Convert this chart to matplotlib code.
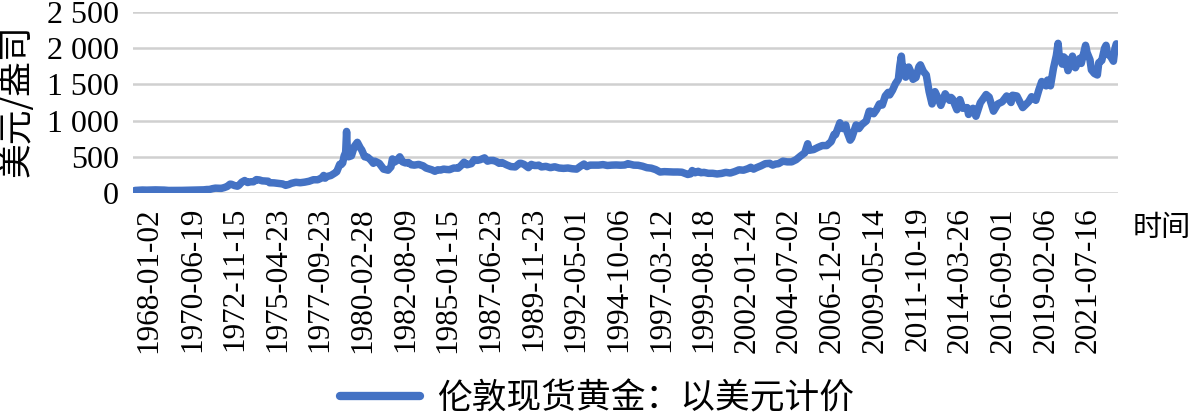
import matplotlib
matplotlib.use("Agg")
import matplotlib.pyplot as plt
import matplotlib.transforms as mtransforms
import pandas as pd

# London spot gold, USD per ounce (roughly bimonthly)
dates = [
    "1968-01", "1968-03", "1968-04", "1968-06", "1968-09", "1968-12",
    "1969-03", "1969-06", "1969-09", "1969-12",
    "1970-03", "1970-06", "1970-09", "1970-12",
    "1971-03", "1971-06", "1971-09", "1971-12",
    "1972-02", "1972-04", "1972-06", "1972-08", "1972-10", "1972-12",
    "1973-02", "1973-04", "1973-06", "1973-07", "1973-09", "1973-11", "1973-12",
    "1974-02", "1974-04", "1974-06", "1974-08", "1974-10", "1974-12",
    "1975-02", "1975-04", "1975-06", "1975-08", "1975-09", "1975-12",
    "1976-03", "1976-06", "1976-08", "1976-10", "1976-12",
    "1977-03", "1977-06", "1977-09", "1977-12",
    "1978-03", "1978-06", "1978-09", "1978-10", "1978-11", "1978-12",
    "1979-03", "1979-06", "1979-07", "1979-09", "1979-10", "1979-11", "1979-12",
    "1980-01-02", "1980-01-21", "1980-02", "1980-03", "1980-05", "1980-07", "1980-09", "1980-10", "1980-11", "1980-12",
    "1981-02", "1981-04", "1981-06", "1981-08", "1981-09", "1981-12",
    "1982-03", "1982-06", "1982-08", "1982-09", "1982-10", "1982-12",
    "1983-02", "1983-04", "1983-06", "1983-08", "1983-10", "1983-12",
    "1984-03", "1984-06", "1984-08", "1984-12",
    "1985-02", "1985-04", "1985-06", "1985-08", "1985-10", "1985-12",
    "1986-03", "1986-06", "1986-08", "1986-10", "1986-12",
    "1987-03", "1987-05", "1987-07", "1987-09", "1987-12",
    "1988-02", "1988-04", "1988-06", "1988-08", "1988-10", "1988-12",
    "1989-03", "1989-06", "1989-09", "1989-11", "1989-12",
    "1990-01", "1990-03", "1990-06", "1990-08", "1990-10", "1990-12",
    "1991-01", "1991-03", "1991-06", "1991-09", "1991-12",
    "1992-03", "1992-06", "1992-09", "1992-12",
    "1993-03", "1993-06", "1993-08", "1993-10", "1993-12",
    "1994-03", "1994-06", "1994-09", "1994-12",
    "1995-03", "1995-06", "1995-09", "1995-12",
    "1996-02", "1996-06", "1996-09", "1996-12",
    "1997-03", "1997-06", "1997-09", "1997-12",
    "1998-03", "1998-06", "1998-09", "1998-12",
    "1999-03", "1999-07", "1999-09", "1999-10", "1999-12",
    "2000-02", "2000-04", "2000-06", "2000-09", "2000-12",
    "2001-03", "2001-06", "2001-09", "2001-12",
    "2002-03", "2002-06", "2002-09", "2002-12",
    "2003-02", "2003-04", "2003-06", "2003-09", "2003-12",
    "2004-03", "2004-05", "2004-07", "2004-09", "2004-12",
    "2005-03", "2005-06", "2005-09", "2005-12",
    "2006-03", "2006-05", "2006-06", "2006-09", "2006-12",
    "2007-03", "2007-06", "2007-09", "2007-11", "2007-12",
    "2008-03", "2008-05", "2008-07", "2008-08", "2008-10", "2008-11", "2008-12",
    "2009-02", "2009-04", "2009-06", "2009-09", "2009-11", "2009-12",
    "2010-02", "2010-04", "2010-06", "2010-08", "2010-10", "2010-12",
    "2011-01", "2011-03", "2011-05", "2011-07", "2011-08", "2011-09", "2011-10", "2011-11", "2011-12",
    "2012-02", "2012-04", "2012-05", "2012-07", "2012-09", "2012-10", "2012-12",
    "2013-02", "2013-04", "2013-06", "2013-08", "2013-10", "2013-12",
    "2014-03", "2014-06", "2014-07", "2014-08", "2014-11", "2014-12",
    "2015-01", "2015-03", "2015-06", "2015-07", "2015-08", "2015-10", "2015-12",
    "2016-03", "2016-07", "2016-09", "2016-12",
    "2017-03", "2017-06", "2017-09", "2017-12",
    "2018-01", "2018-04", "2018-08", "2018-12",
    "2019-02", "2019-05", "2019-07", "2019-09", "2019-12",
    "2020-01", "2020-03", "2020-05", "2020-07", "2020-08-06", "2020-09", "2020-11", "2020-12",
    "2021-01", "2021-03", "2021-06", "2021-08", "2021-11", "2021-12",
    "2022-03", "2022-04", "2022-06", "2022-07", "2022-09", "2022-11", "2022-12",
    "2023-02", "2023-04", "2023-05", "2023-06", "2023-08", "2023-10", "2023-11", "2023-12",
]
prices = [
    35, 37, 38, 41, 39.5, 41,
    43, 41, 40, 35,
    35.2, 35.5, 36, 37.4,
    38.8, 40, 42, 43.5,
    48, 49, 60, 67, 65, 64,
    75, 90, 122, 120, 103, 94, 106,
    150, 172, 145, 155, 155, 185,
    180, 168, 165, 163, 142, 140,
    132, 125, 106, 117, 134,
    148, 142, 150, 162,
    183, 183, 212, 242, 205, 226,
    242, 280, 295, 397, 392, 415, 512,
    560, 850, 670, 500, 514, 644, 700, 662, 623, 595,
    500, 495, 460, 410, 440, 410,
    330, 315, 360, 470, 423, 447,
    500, 430, 415, 420, 390, 385,
    395, 375, 345, 320,
    300, 320, 317, 330, 325, 322,
    345, 343, 380, 425, 390,
    405, 460, 450, 460, 485,
    440, 450, 450, 435, 410, 420,
    390, 365, 360, 395, 410,
    410, 395, 350, 395, 380, 380,
    385, 360, 368, 350, 362,
    345, 340, 345, 335,
    330, 375, 400, 365, 385,
    385, 385, 392, 380,
    385, 387, 384, 387,
    405, 385, 383, 370,
    350, 343, 323, 290,
    295, 292, 290, 290,
    287, 256, 265, 310, 280,
    300, 280, 285, 272, 272,
    263, 270, 285, 276,
    295, 320, 315, 335,
    355, 330, 350, 375, 405,
    410, 385, 400, 405, 440,
    430, 430, 460, 510,
    555, 680, 590, 600, 630,
    655, 655, 710, 810, 805,
    970, 890, 940, 840, 730, 760, 820,
    940, 890, 945, 995, 1130, 1130,
    1095, 1150, 1230, 1215, 1340, 1390,
    1355, 1420, 1510, 1570, 1760, 1890, 1665, 1740, 1600,
    1740, 1650, 1570, 1595, 1745, 1770, 1680,
    1630, 1400, 1230, 1400, 1315, 1210,
    1370, 1280, 1320, 1300, 1150, 1200,
    1290, 1170, 1180, 1085, 1130, 1170, 1060,
    1245, 1360, 1325, 1130,
    1230, 1260, 1340, 1250,
    1350, 1340, 1180, 1260,
    1330, 1280, 1420, 1540, 1480,
    1560, 1480, 1720, 1900, 2067, 1880, 1780, 1880,
    1860, 1690, 1890, 1730, 1860, 1790,
    2040, 1940, 1840, 1700, 1650, 1630, 1800,
    1830, 2000, 2040, 1920, 1890, 1820, 1990, 2060,
]

tick_dates = [
    "1968-01-02", "1970-06-19", "1972-11-15", "1975-04-23", "1977-09-23",
    "1980-02-28", "1982-08-09", "1985-01-15", "1987-06-23", "1989-11-23",
    "1992-05-01", "1994-10-06", "1997-03-12", "1999-08-18", "2002-01-24",
    "2004-07-02", "2006-12-05", "2009-05-14", "2011-10-19", "2014-03-26",
    "2016-09-01", "2019-02-06", "2021-07-16",
]
y_ticks = [0, 500, 1000, 1500, 2000, 2500]
y_labels = ["0", "500", "1 000", "1 500", "2 000", "2 500"]

series_name = "伦敦现货黄金：以美元计价"
y_title = "美元/盎司"
x_title = "时间"

cjk = ["Noto Sans CJK SC", "DejaVu Sans"]
serif = ["Liberation Serif", "DejaVu Serif"]
blue = "#4472C4"


def main():
    fig = plt.figure(figsize=(11.94, 4.18), dpi=100)
    ax = fig.add_axes([133 / 1194, 1 - 193 / 418, (1118 - 133) / 1194, (193 - 12) / 418])

    x = pd.to_datetime(dates, format="ISO8601")
    ax.plot(x, prices, color=blue, lw=5.4, solid_capstyle="round", solid_joinstyle="round", zorder=3,
            label=series_name)

    ax.set_xlim(pd.Timestamp("1967-11-20"), pd.Timestamp("2024-01-05"))
    ax.set_ylim(0, 2500)
    for y in y_ticks:
        ax.axhline(y, color="#d0d0d0", lw=1.8, zorder=1)

    for s in ax.spines.values():
        s.set_visible(False)

    ax.set_yticks(y_ticks)
    ax.set_yticklabels(y_labels, family=serif, fontsize=23)
    ax.set_xticks(pd.to_datetime(tick_dates))
    ax.set_xticklabels(tick_dates, family=serif, fontsize=22.5, rotation=90, ha="center", va="top")
    ax.tick_params(length=0)
    ax.tick_params(axis="y", pad=10)
    ax.tick_params(axis="x", pad=10)

    # Excel-style rotated labels sit a bit to the right of their category
    shift = mtransforms.ScaledTranslation(14 / 100, 0, fig.dpi_scale_trans)
    for lab in ax.get_xticklabels():
        lab.set_transform(lab.get_transform() + shift)

    fig.text(17 / 1194, 1 - 101 / 418, y_title, rotation=90, ha="center", va="center",
             family=cjk, fontsize=25)
    fig.text(1162 / 1194, 1 - 228 / 418, x_title, ha="center", va="center", family=cjk, fontsize=21)

    leg = fig.legend(loc="center", bbox_to_anchor=(0.5, 1 - 399 / 418), frameon=False,
                     prop={"family": cjk, "size": 25}, handlelength=2.3, handletextpad=0.5)
    for h in leg.get_lines():
        h.set_linewidth(6)
        h.set_solid_capstyle("round")

    fig.savefig("out.png", dpi=100)


if __name__ == "__main__":
    main()
